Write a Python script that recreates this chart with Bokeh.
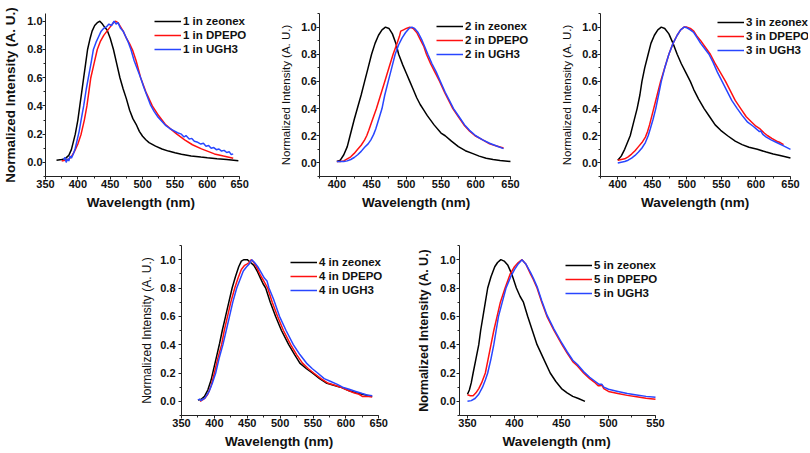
from bokeh.plotting import figure
from bokeh.layouts import column, row
from bokeh.models import (Legend, LegendItem, SingleIntervalTicker,
                          PrintfTickFormatter, Range1d, Spacer)
from bokeh.embed import file_html
from bokeh.resources import INLINE

# ---------------- data ----------------
# Compound 1
wl_1_zeonex = [367, 375, 380, 386, 390, 396, 400, 403, 406, 409, 412, 415, 419, 422, 426, 430, 434, 438, 441, 445, 450, 455, 460, 465, 470, 475, 480, 485, 490, 495, 500, 505, 510, 520, 530, 540, 550, 560, 575, 590, 600, 615, 630, 648]
in_1_zeonex = [0.015, 0.02, 0.025, 0.05, 0.09, 0.2, 0.3, 0.4, 0.5, 0.6, 0.7, 0.8, 0.88, 0.93, 0.97, 0.99, 1.0, 0.98, 0.96, 0.94, 0.88, 0.8, 0.7, 0.6, 0.52, 0.45, 0.37, 0.31, 0.27, 0.22, 0.185, 0.16, 0.14, 0.115, 0.095, 0.08, 0.068, 0.058, 0.046, 0.038, 0.033, 0.026, 0.02, 0.012]
wl_1_dpepo = [375, 380, 385, 390, 395, 400, 405, 410, 414, 417, 420, 425, 430, 435, 440, 445, 450, 455, 458, 462, 466, 470, 475, 480, 485, 490, 497, 505, 515, 525, 535, 545, 553, 565, 577, 591, 600, 611, 625, 640]
in_1_dpepo = [0.01, 0.015, 0.02, 0.04, 0.08, 0.13, 0.2, 0.3, 0.4, 0.5, 0.6, 0.7, 0.8, 0.86, 0.9, 0.93, 0.96, 0.99, 1.0, 0.99, 0.96, 0.93, 0.88, 0.84, 0.79, 0.72, 0.6, 0.5, 0.4, 0.33, 0.27, 0.23, 0.2, 0.16, 0.125, 0.096, 0.08, 0.06, 0.045, 0.03]
wl_1_ugh3 = [378, 380, 382, 384, 386, 388, 390, 393, 396, 399, 402, 405, 409, 413, 417, 421, 424, 428, 432, 436, 440, 444, 448, 452, 456, 459, 462, 466, 470, 474, 478, 482, 487, 492, 497, 502, 507, 512, 518, 524, 530, 536, 542, 548, 554, 560, 564, 567, 572, 576, 580, 584, 590, 594, 598, 602, 606, 610, 614, 618, 622, 626, 630, 634, 637, 640]
in_1_ugh3 = [0.02, 0.035, 0.0, 0.025, 0.01, 0.045, 0.03, 0.06, 0.1, 0.16, 0.22, 0.3, 0.4, 0.52, 0.62, 0.72, 0.8, 0.85, 0.89, 0.93, 0.95, 0.96, 0.98, 0.97, 1.0, 0.98, 0.99, 0.95, 0.93, 0.89, 0.85, 0.8, 0.72, 0.66, 0.6, 0.53, 0.47, 0.41, 0.36, 0.32, 0.29, 0.26, 0.24, 0.225, 0.21, 0.2, 0.18, 0.19, 0.165, 0.17, 0.15, 0.145, 0.13, 0.135, 0.115, 0.12, 0.1, 0.105, 0.09, 0.095, 0.08, 0.085, 0.07, 0.075, 0.055, 0.06]

# Compound 2
wl_2_zeonex = [400, 405, 410, 415, 419, 425, 430, 435, 440, 445, 450, 455, 460, 465, 470, 475, 480, 485, 489, 495, 500, 505, 510, 515, 520, 525, 530, 540, 550, 556, 565, 575, 585, 595, 605, 615, 625, 635, 650]
in_2_zeonex = [0.01, 0.02, 0.06, 0.12, 0.2, 0.32, 0.41, 0.5, 0.6, 0.7, 0.8, 0.88, 0.94, 0.98, 1.0, 0.99, 0.95, 0.88, 0.8, 0.72, 0.66, 0.6, 0.54, 0.48, 0.43, 0.39, 0.35, 0.28, 0.22, 0.2, 0.16, 0.12, 0.09, 0.07, 0.05, 0.035, 0.025, 0.018, 0.01]
wl_2_dpepo = [400, 405, 410, 415, 420, 425, 430, 435, 440, 443, 446, 450, 457, 463, 469, 475, 481, 486, 490, 492, 496, 500, 505, 510, 515, 520, 525, 529, 535, 541, 548, 555, 561, 567, 575, 583, 590, 599, 610, 620, 630, 640]
in_2_dpepo = [0.01, 0.01, 0.015, 0.03, 0.045, 0.07, 0.1, 0.13, 0.17, 0.2, 0.24, 0.3, 0.4, 0.5, 0.6, 0.7, 0.8, 0.87, 0.93, 0.97, 0.98, 0.99, 1.0, 0.99, 0.96, 0.91, 0.86, 0.8, 0.73, 0.67, 0.6, 0.52, 0.46, 0.4, 0.34, 0.28, 0.24, 0.2, 0.17, 0.14, 0.125, 0.11]
wl_2_ugh3 = [400, 410, 415, 420, 425, 430, 435, 440, 445, 449, 453, 456, 459, 465, 469, 474, 479, 484, 489, 494, 499, 504, 508, 512, 517, 522, 527, 531, 537, 543, 549, 556, 562, 568, 576, 584, 591, 600, 610, 620, 630, 640]
in_2_ugh3 = [0.01, 0.01, 0.015, 0.025, 0.04, 0.06, 0.085, 0.115, 0.14, 0.17, 0.21, 0.25, 0.3, 0.4, 0.5, 0.6, 0.7, 0.8, 0.87, 0.92, 0.96, 0.99, 1.0, 0.99, 0.96, 0.91, 0.85, 0.8, 0.73, 0.67, 0.6, 0.52, 0.46, 0.4, 0.34, 0.28, 0.24, 0.2, 0.17, 0.145, 0.125, 0.105]

# Compound 3
wl_3_zeonex = [400, 405, 410, 414, 418, 423, 428, 432, 435, 439, 444, 448, 453, 458, 463, 468, 474, 480, 486, 492, 498, 505, 510, 517, 525, 533, 541, 549, 559, 570, 580, 590, 602, 615, 625, 635, 650]
in_3_zeonex = [0.02, 0.05, 0.1, 0.15, 0.2, 0.3, 0.4, 0.5, 0.6, 0.7, 0.8, 0.88, 0.94, 0.98, 1.0, 0.99, 0.95, 0.88, 0.8, 0.73, 0.67, 0.6, 0.54, 0.47, 0.4, 0.34, 0.28, 0.24, 0.2, 0.16, 0.135, 0.115, 0.1, 0.08, 0.066, 0.055, 0.036]
wl_3_dpepo = [400, 405, 410, 415, 420, 425, 430, 435, 440, 443, 446, 452, 457, 462, 468, 474, 480, 486, 491, 496, 500, 505, 510, 515, 520, 527, 534, 540, 548, 556, 563, 570, 578, 586, 594, 600, 606, 612, 617, 623, 630, 635, 640]
in_3_dpepo = [0.02, 0.025, 0.03, 0.045, 0.065, 0.09, 0.12, 0.15, 0.19, 0.23, 0.28, 0.4, 0.5, 0.6, 0.7, 0.8, 0.88, 0.94, 0.98, 1.0, 1.0, 0.99, 0.97, 0.93, 0.9, 0.85, 0.8, 0.74, 0.67, 0.6, 0.53, 0.46, 0.4, 0.34, 0.3, 0.27, 0.25, 0.22, 0.2, 0.18, 0.16, 0.15, 0.135]
wl_3_ugh3 = [400, 405, 410, 415, 420, 425, 430, 435, 440, 444, 447, 451, 455, 459, 463, 468, 474, 480, 486, 491, 496, 500, 505, 510, 515, 520, 526, 532, 538, 544, 551, 558, 565, 573, 580, 588, 596, 603, 605, 607, 610, 615, 622, 630, 640, 650]
in_3_ugh3 = [0.0, 0.005, 0.01, 0.02, 0.035, 0.055, 0.08, 0.11, 0.15, 0.2, 0.25, 0.32, 0.4, 0.5, 0.6, 0.7, 0.8, 0.88, 0.94, 0.98, 1.0, 0.995, 0.98, 0.96, 0.92, 0.88, 0.84, 0.8, 0.74, 0.67, 0.6, 0.53, 0.46, 0.4, 0.35, 0.3, 0.27, 0.24, 0.23, 0.235, 0.21, 0.19, 0.17, 0.15, 0.125, 0.1]

# Compound 4
wl_4_zeonex = [375, 380, 385, 390, 395, 397, 400, 404, 408, 412, 417, 422, 427, 432, 437, 441, 445, 450, 455, 460, 465, 470, 474, 478, 485, 493, 502, 513, 522, 530, 540, 549, 560, 570, 580, 592, 605, 615, 625, 630, 640]
in_4_zeonex = [0.01, 0.015, 0.035, 0.08, 0.15, 0.19, 0.25, 0.33, 0.41, 0.5, 0.6, 0.7, 0.8, 0.88, 0.95, 0.99, 1.0, 1.0, 0.98, 0.96, 0.92, 0.87, 0.83, 0.8, 0.7, 0.6, 0.5, 0.4, 0.33, 0.27, 0.23, 0.2, 0.16, 0.13, 0.115, 0.1, 0.075, 0.06, 0.05, 0.045, 0.035]
wl_4_dpepo = [378, 382, 386, 390, 395, 400, 405, 411, 415, 420, 425, 431, 436, 441, 446, 450, 453, 456, 460, 465, 470, 475, 481, 488, 496, 505, 516, 525, 534, 543, 551, 562, 572, 582, 592, 602, 612, 620, 625, 632, 640]
in_4_dpepo = [0.0, 0.01, 0.025, 0.05, 0.11, 0.2, 0.3, 0.4, 0.5, 0.6, 0.7, 0.8, 0.87, 0.93, 0.96, 0.97, 0.98, 1.0, 0.98, 0.94, 0.89, 0.85, 0.8, 0.7, 0.6, 0.5, 0.4, 0.33, 0.27, 0.23, 0.2, 0.16, 0.13, 0.115, 0.1, 0.08, 0.06, 0.05, 0.035, 0.035, 0.03]
wl_4_ugh3 = [375, 378, 380, 382, 385, 388, 392, 397, 402, 407, 413, 418, 423, 428, 434, 439, 444, 449, 453, 457, 461, 466, 471, 476, 480, 483, 490, 499, 509, 520, 530, 540, 549, 557, 567, 577, 587, 595, 605, 615, 625, 632, 640]
in_4_ugh3 = [0.01, 0.015, 0.005, 0.015, 0.02, 0.04, 0.07, 0.13, 0.2, 0.3, 0.4, 0.5, 0.6, 0.7, 0.8, 0.86, 0.92, 0.95, 0.97, 1.0, 0.98, 0.95, 0.91, 0.87, 0.85, 0.8, 0.72, 0.6, 0.5, 0.4, 0.33, 0.27, 0.23, 0.2, 0.16, 0.14, 0.12, 0.1, 0.085, 0.07, 0.055, 0.045, 0.04]

# Compound 5
wl_5_zeonex = [350, 352, 354, 356, 359, 362, 364, 366.5, 369, 371.5, 375, 379, 382, 385.5, 389, 393, 397, 402, 406, 409.5, 414, 419, 424, 431, 438, 444, 450, 456, 462, 468, 475]
in_5_zeonex = [0.05, 0.08, 0.13, 0.2, 0.3, 0.4, 0.5, 0.6, 0.7, 0.8, 0.88, 0.95, 0.98, 1.0, 0.99, 0.96, 0.9, 0.8, 0.74, 0.7, 0.6, 0.5, 0.4, 0.3, 0.2, 0.14, 0.09, 0.06, 0.035, 0.02, 0.0]
wl_5_dpepo = [350, 353, 356, 359, 362, 365, 369, 372, 375, 378, 381.5, 385, 390, 395.5, 400, 404, 408, 412, 417, 420, 424, 429, 434.5, 442, 450.5, 456, 462, 467, 473.5, 480, 486, 489, 491, 493, 495, 500, 510, 520, 530, 540, 550]
in_5_dpepo = [0.046, 0.04, 0.04, 0.06, 0.09, 0.13, 0.2, 0.3, 0.4, 0.5, 0.6, 0.7, 0.8, 0.9, 0.95, 0.98, 1.0, 0.97, 0.9, 0.86, 0.8, 0.7, 0.6, 0.5, 0.4, 0.34, 0.28, 0.25, 0.2, 0.16, 0.13, 0.11, 0.11, 0.115, 0.09, 0.07, 0.055, 0.042, 0.032, 0.022, 0.015]
wl_5_ugh3 = [350, 354, 358, 362, 366, 369, 371.5, 375, 378, 380.5, 383, 387, 391, 396, 400, 404, 408, 412, 417, 420, 424, 429, 434.5, 442, 450.5, 456, 462, 467, 473.5, 480, 486, 490, 493, 495, 500, 510, 520, 530, 540, 550]
in_5_ugh3 = [0.0, 0.005, 0.02, 0.05, 0.1, 0.15, 0.2, 0.3, 0.4, 0.5, 0.6, 0.7, 0.8, 0.88, 0.93, 0.97, 1.0, 0.97, 0.91, 0.87, 0.81, 0.71, 0.61, 0.51, 0.41, 0.35, 0.29, 0.26, 0.21, 0.17, 0.14, 0.12, 0.12, 0.1, 0.085, 0.07, 0.055, 0.045, 0.035, 0.028]

labels_1 = ["1 in zeonex", "1 in DPEPO", "1 in UGH3"]
labels_2 = ["2 in zeonex", "2 in DPEPO", "2 in UGH3"]
labels_3 = ["3 in zeonex", "3 in DPEPO", "3 in UGH3"]
labels_4 = ["4 in zeonex", "4 in DPEPO", "4 in UGH3"]
labels_5 = ["5 in zeonex", "5 in DPEPO", "5 in UGH3"]

# axis extents shown in each panel (wavelength, nm)
xaxis_1 = (350, 650)
xaxis_2 = (375, 650)
xaxis_3 = (375, 650)
xaxis_4 = (350, 650)
xaxis_5 = (341.5, 550)

x_label = "Wavelength (nm)"
y_label = "Normalized Intensity (A. U.)"

FONT = "Liberation Sans"
COLORS = ["#000000", "#ff1010", "#2846ff"]
NBSP = "\u00a0"


def panel(width, height, mb, xaxis_ext, x_end, yr, series, labels, legend_xy,
          ylab_size, ylab_style, ylab_standoff, ytick_standoff,
          xlab_pad=0, xlab_standoff=4):
    # the frame extends a little past the axis end so the legend text is not
    # clipped; the axis itself is bounded to the reference's extent
    p = figure(width=width, height=height,
               x_range=Range1d(xaxis_ext[0], x_end), y_range=Range1d(*yr),
               output_backend="svg", toolbar_location=None,
               min_border_left=mb[0], min_border_right=mb[1],
               min_border_top=mb[2], min_border_bottom=mb[3])
    p.outline_line_color = None
    p.grid.visible = False
    p.background_fill_color = "white"
    p.border_fill_color = "white"

    items = []
    for (xs, ys), lab, col in zip(series, labels, COLORS):
        r = p.line(xs, ys, line_color=col, line_width=1.5)
        items.append(LegendItem(label=lab, renderers=[r]))

    xa = p.xaxis[0]
    xa.ticker = SingleIntervalTicker(interval=50, num_minor_ticks=2)
    xa.bounds = xaxis_ext
    ya = p.yaxis[0]
    ya.ticker = SingleIntervalTicker(interval=0.2, num_minor_ticks=2)
    ya.formatter = PrintfTickFormatter(format="%.1f")
    for ax in (xa, ya):
        ax.axis_line_color = "#222222"
        ax.major_tick_line_color = "#222222"
        ax.minor_tick_line_color = "#222222"
        ax.major_tick_in = 0
        ax.major_tick_out = 3
        ax.minor_tick_in = 0
        ax.minor_tick_out = 2
        ax.major_label_text_font = FONT
        ax.major_label_text_font_style = "bold"
        ax.major_label_text_font_size = "11px"
        ax.major_label_text_color = "#111111"
        ax.axis_label_text_font = FONT
        ax.axis_label_text_color = "#111111"
    # trailing no-break spaces keep the label centred under the bounded axis
    xa.axis_label = x_label + NBSP * xlab_pad
    xa.axis_label_text_font_style = "bold"
    xa.axis_label_text_font_size = "13.5px"
    xa.major_label_standoff = 0
    xa.axis_label_standoff = xlab_standoff
    ya.axis_label = y_label
    ya.axis_label_text_font_style = ylab_style
    ya.axis_label_text_font_size = ylab_size
    ya.major_label_standoff = ytick_standoff
    ya.axis_label_standoff = ylab_standoff

    leg = Legend(items=items, location=legend_xy)
    leg.border_line_alpha = 0
    leg.background_fill_alpha = 0
    leg.label_text_font = FONT
    leg.label_text_font_style = "bold"
    leg.label_text_font_size = "11.5px"
    leg.label_text_color = "#111111"
    leg.glyph_width = 27
    leg.glyph_height = 14
    leg.label_height = 14
    leg.label_standoff = 2
    leg.spacing = 0
    leg.padding = 0
    leg.margin = 0
    p.add_layout(leg)
    return p


p1 = panel(270, 215, (41, 23, 1, 39), xaxis_1, 662.1, (-0.1, 1.055),
           [(wl_1_zeonex, in_1_zeonex), (wl_1_dpepo, in_1_dpepo), (wl_1_ugh3, in_1_ugh3)],
           labels_1, (109, 120), "13.5px", "bold", 6, 0, xlab_pad=3)
p2 = panel(270, 215, (49, 9, 13, 36), xaxis_2, 680.3, (-0.1, 1.1),
           [(wl_2_zeonex, in_2_zeonex), (wl_2_dpepo, in_2_dpepo), (wl_2_ugh3, in_2_ugh3)],
           labels_2, (117, 115), "11.5px", "normal", 6, 0, xlab_pad=5)
p3 = panel(270, 215, (60, 2, 13, 35), xaxis_3, 676.1, (-0.1, 1.1),
           [(wl_3_zeonex, in_3_zeonex), (wl_3_dpepo, in_3_dpepo), (wl_3_ugh3, in_3_ugh3)],
           labels_3, (117, 119), "11.5px", "normal", 6, 0, xlab_pad=5)
p4 = panel(300, 238, (71, 26, 30, 36), xaxis_4, 658.7, (-0.1, 1.1),
           [(wl_4_zeonex, in_4_zeonex), (wl_4_dpepo, in_4_dpepo), (wl_4_ugh3, in_4_ugh3)],
           labels_4, (109, 118), "12px", "normal", 3, 3, xlab_pad=2)
p5 = panel(290, 238, (49, 39, 28, 38), xaxis_5, 556.4, (-0.1, 1.1),
           [(wl_5_zeonex, in_5_zeonex), (wl_5_dpepo, in_5_dpepo), (wl_5_ugh3, in_5_ugh3)],
           labels_5, (106, 115), "12.5px", "bold", 6, 1, xlab_pad=2)

layout = column(row(p1, p2, p3, spacing=0),
                row(Spacer(width=110, height=238), p4, p5, spacing=0),
                spacing=0)

open("out.html", "w").write(file_html(layout, INLINE))
